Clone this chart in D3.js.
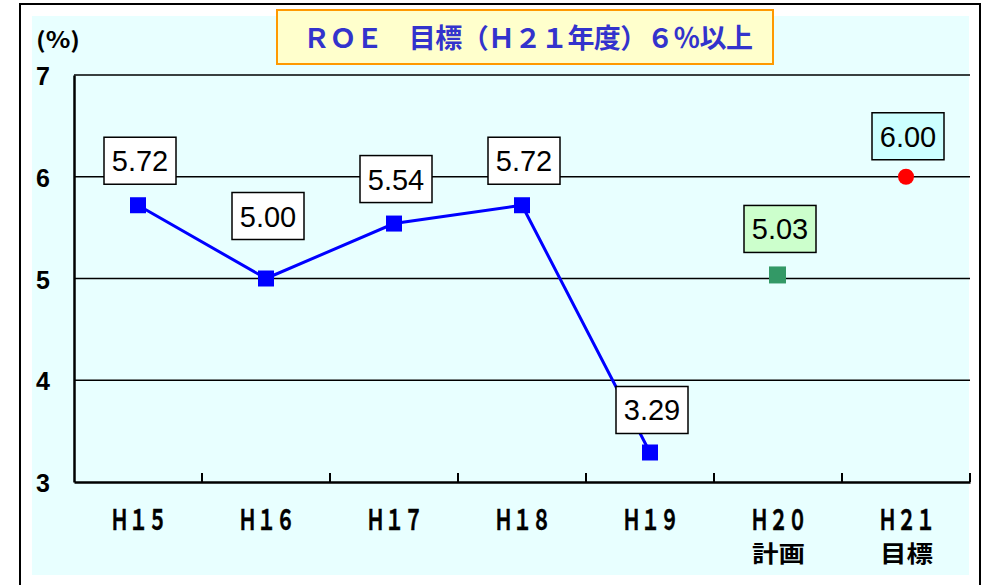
<!DOCTYPE html>
<html lang="ja">
<head>
<meta charset="utf-8">
<title>ROE</title>
<script src="https://cdn.jsdelivr.net/npm/d3@7/dist/d3.min.js"></script>
<style>
  body { margin: 0; background: #fff; }
  .jp { font-family: "Noto Sans CJK JP", sans-serif; font-weight: bold; }
  .num { font-family: "Liberation Sans", Arial, sans-serif; }
</style>
</head>
<body>
<script>
// data
var categories = ["Ｈ１５", "Ｈ１６", "Ｈ１７", "Ｈ１８", "Ｈ１９", "Ｈ２０", "Ｈ２１"];
var subLabels = ["", "", "", "", "", "計画", "目標"];
var actual = [5.72, 5.00, 5.54, 5.72, 3.29];   // H15-H19
var plan = 5.03;     // H20
var target = 6.00;   // H21
var yTicks = [3, 4, 5, 6, 7];
var title = "ＲＯＥ　目標（Ｈ２１年度）６％以上";

var W = 985, H = 585;
var svg = d3.select("body").append("svg").attr("width", W).attr("height", H);

// frame + background
svg.append("rect").attr("x", 20).attr("y", 4).attr("width", 960).attr("height", 590)
   .attr("fill", "#fff").attr("stroke", "#000").attr("stroke-width", 2);
svg.append("rect").attr("x", 32).attr("y", 16).attr("width", 937).attr("height", 559)
   .attr("fill", "#e8ffff");

var x = d3.scaleBand().domain(categories).range([74, 970]);
var y = d3.scaleLinear().domain([3, 7]).range([482, 75]);

// gridlines
svg.append("g").selectAll("line").data(yTicks.filter(function(d){ return d > 3; }))
  .enter().append("line")
  .attr("x1", 74).attr("x2", 970)
  .attr("y1", function(d){ return y(d); }).attr("y2", function(d){ return y(d); })
  .attr("stroke", "#000").attr("stroke-width", 1.5);

// y axis
var yAxis = svg.append("g").attr("transform", "translate(74,0)")
  .call(d3.axisLeft(y).tickValues(yTicks).tickSize(0).tickFormat(""));
yAxis.select(".domain").attr("stroke", "#000").attr("stroke-width", 2.5);
svg.append("g").selectAll("text").data(yTicks).enter().append("text")
  .attr("class", "num").attr("x", 36).attr("y", function(d){ return y(d) + 10; })
  .style("font-size", "25px").style("font-weight", "bold").attr("fill", "#000")
  .text(function(d){ return d; });

// x axis
var xAxis = svg.append("g").attr("transform", "translate(0,482)")
  .call(d3.axisBottom(x).tickSize(0).tickFormat(""));
xAxis.select(".domain").attr("stroke", "#000").attr("stroke-width", 2.5);
var bounds = categories.map(function(c){ return x(c) + x.bandwidth(); });
svg.append("g").selectAll("line").data(bounds).enter().append("line")
  .attr("x1", function(d){ return d; }).attr("x2", function(d){ return d; })
  .attr("y1", 482).attr("y2", 473).attr("stroke", "#000").attr("stroke-width", 2);

svg.append("g").selectAll("text").data(categories).enter().append("text")
  .attr("class", "jp")
  .attr("x", function(d){ return x(d) + x.bandwidth() / 2 - 28; })
  .attr("y", 530)
  .attr("textLength", 57).attr("lengthAdjust", "spacingAndGlyphs")
  .style("font-size", "28px").attr("fill", "#000")
  .attr("stroke", "#000").attr("stroke-width", 0.4)
  .text(function(d){ return d; });
svg.append("g").selectAll("text").data(subLabels.filter(function(d){ return d; })).enter().append("text")
  .attr("class", "jp")
  .attr("x", function(d){ return x(categories[subLabels.indexOf(d)]) + x.bandwidth() / 2 - 26; })
  .attr("y", 562)
  .attr("textLength", 53).attr("lengthAdjust", "spacingAndGlyphs")
  .style("font-size", "23px").attr("fill", "#000")
  .text(function(d){ return d; });

// (%) label
svg.append("text").attr("class", "jp").attr("x", 36).attr("y", 48)
  .attr("textLength", 44).attr("lengthAdjust", "spacingAndGlyphs")
  .style("font-size", "22px").attr("fill", "#000").text("(%)");

// title box
svg.append("rect").attr("x", 277).attr("y", 10).attr("width", 496).attr("height", 54)
  .attr("fill", "#ffffcc").attr("stroke", "#ff9900").attr("stroke-width", 2);
svg.append("text").attr("class", "jp").attr("x", 303).attr("y", 48)
  .attr("textLength", 450).attr("lengthAdjust", "spacing")
  .style("font-size", "27px").attr("fill", "#3333cc").text(title);

// line
var cx = function(i){ return x(categories[i]) + x.bandwidth() / 2; };
svg.append("path").datum(actual)
  .attr("d", d3.line().x(function(d, i){ return cx(i); }).y(function(d){ return y(d); }))
  .attr("fill", "none").attr("stroke", "#0000ff").attr("stroke-width", 3);

// value labels
var labels = actual.map(function(v, i){ return {i: i, v: v, fill: "#fff", dy: -44}; });
labels[1].dy = -62;
labels[4].dy = -42;
labels.push({i: 5, v: plan, fill: "#ccffcc", dy: -46});
labels.push({i: 6, v: target, fill: "#ccffff", dy: -40});

var lg = svg.append("g").selectAll("g").data(labels).enter().append("g")
  .attr("transform", function(d){
    return "translate(" + (cx(d.i) + 2) + "," + (y(d.v) + d.dy) + ")";
  });
lg.append("rect").attr("x", -36).attr("y", -24).attr("width", 72).attr("height", 47)
  .attr("fill", function(d){ return d.fill; }).attr("stroke", "#000").attr("stroke-width", 1.5);
lg.append("text").attr("class", "num").attr("text-anchor", "middle").attr("y", 10)
  .style("font-size", "29px").attr("fill", "#000")
  .text(function(d){ return d.v.toFixed(2); });

// markers
svg.append("g").selectAll("rect").data(actual).enter().append("rect")
  .attr("x", function(d, i){ return cx(i) - 8; }).attr("y", function(d){ return y(d) - 8; })
  .attr("width", 16).attr("height", 16).attr("fill", "#0000ff");
svg.append("rect").attr("x", cx(5) - 9).attr("y", y(plan) - 9).attr("width", 17).attr("height", 17)
  .attr("fill", "#339966");
svg.append("circle").attr("cx", cx(6)).attr("cy", y(target)).attr("r", 8).attr("fill", "#ff0000");
</script>
</body>
</html>
